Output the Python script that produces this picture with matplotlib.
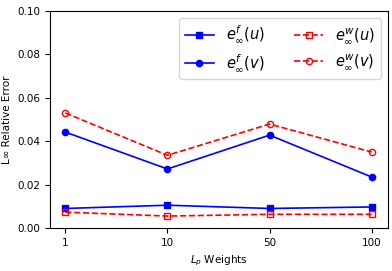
import numpy as np
import matplotlib.pyplot as plt

weights = ['1', '10', '50', '100']
ef_u = [0.0090, 0.0105, 0.0090, 0.0097]
ef_v = [0.0442, 0.0272, 0.0428, 0.0235]
ew_u = [0.0073, 0.0055, 0.0063, 0.0063]
ew_v = [0.0530, 0.0335, 0.0479, 0.0350]

x = np.arange(len(weights))

fig = plt.figure(figsize=(3.92, 2.71), dpi=100)
ax = fig.add_axes([50 / 392, 43 / 271, 338 / 392, 217 / 271])

ax.plot(x, ef_u, 'b-s', ms=4.5, lw=1.2, label=r'$e^f_\infty(u)$')
ax.plot(x, ef_v, 'b-o', ms=4.5, lw=1.2, label=r'$e^f_\infty(v)$')
ax.plot(x, ew_u, 'r--s', ms=4.5, lw=1.2, mfc='none', label=r'$e^w_\infty(u)$')
ax.plot(x, ew_v, 'r--o', ms=4.5, lw=1.2, mfc='none', label=r'$e^w_\infty(v)$')

ax.set_xticks(x)
ax.set_xticklabels(weights)
ax.set_xlim(-0.15, 3.16)
ax.set_ylim(0, 0.10)
ax.tick_params(labelsize=7.5)
ax.set_xlabel(r'$L_p$ Weights', fontsize=7.5)
ax.set_ylabel('L∞ Relative Error', fontsize=7.5)
ax.legend(loc='upper right', ncol=2, fontsize=10.5)

fig.savefig('out.png', dpi=100)
